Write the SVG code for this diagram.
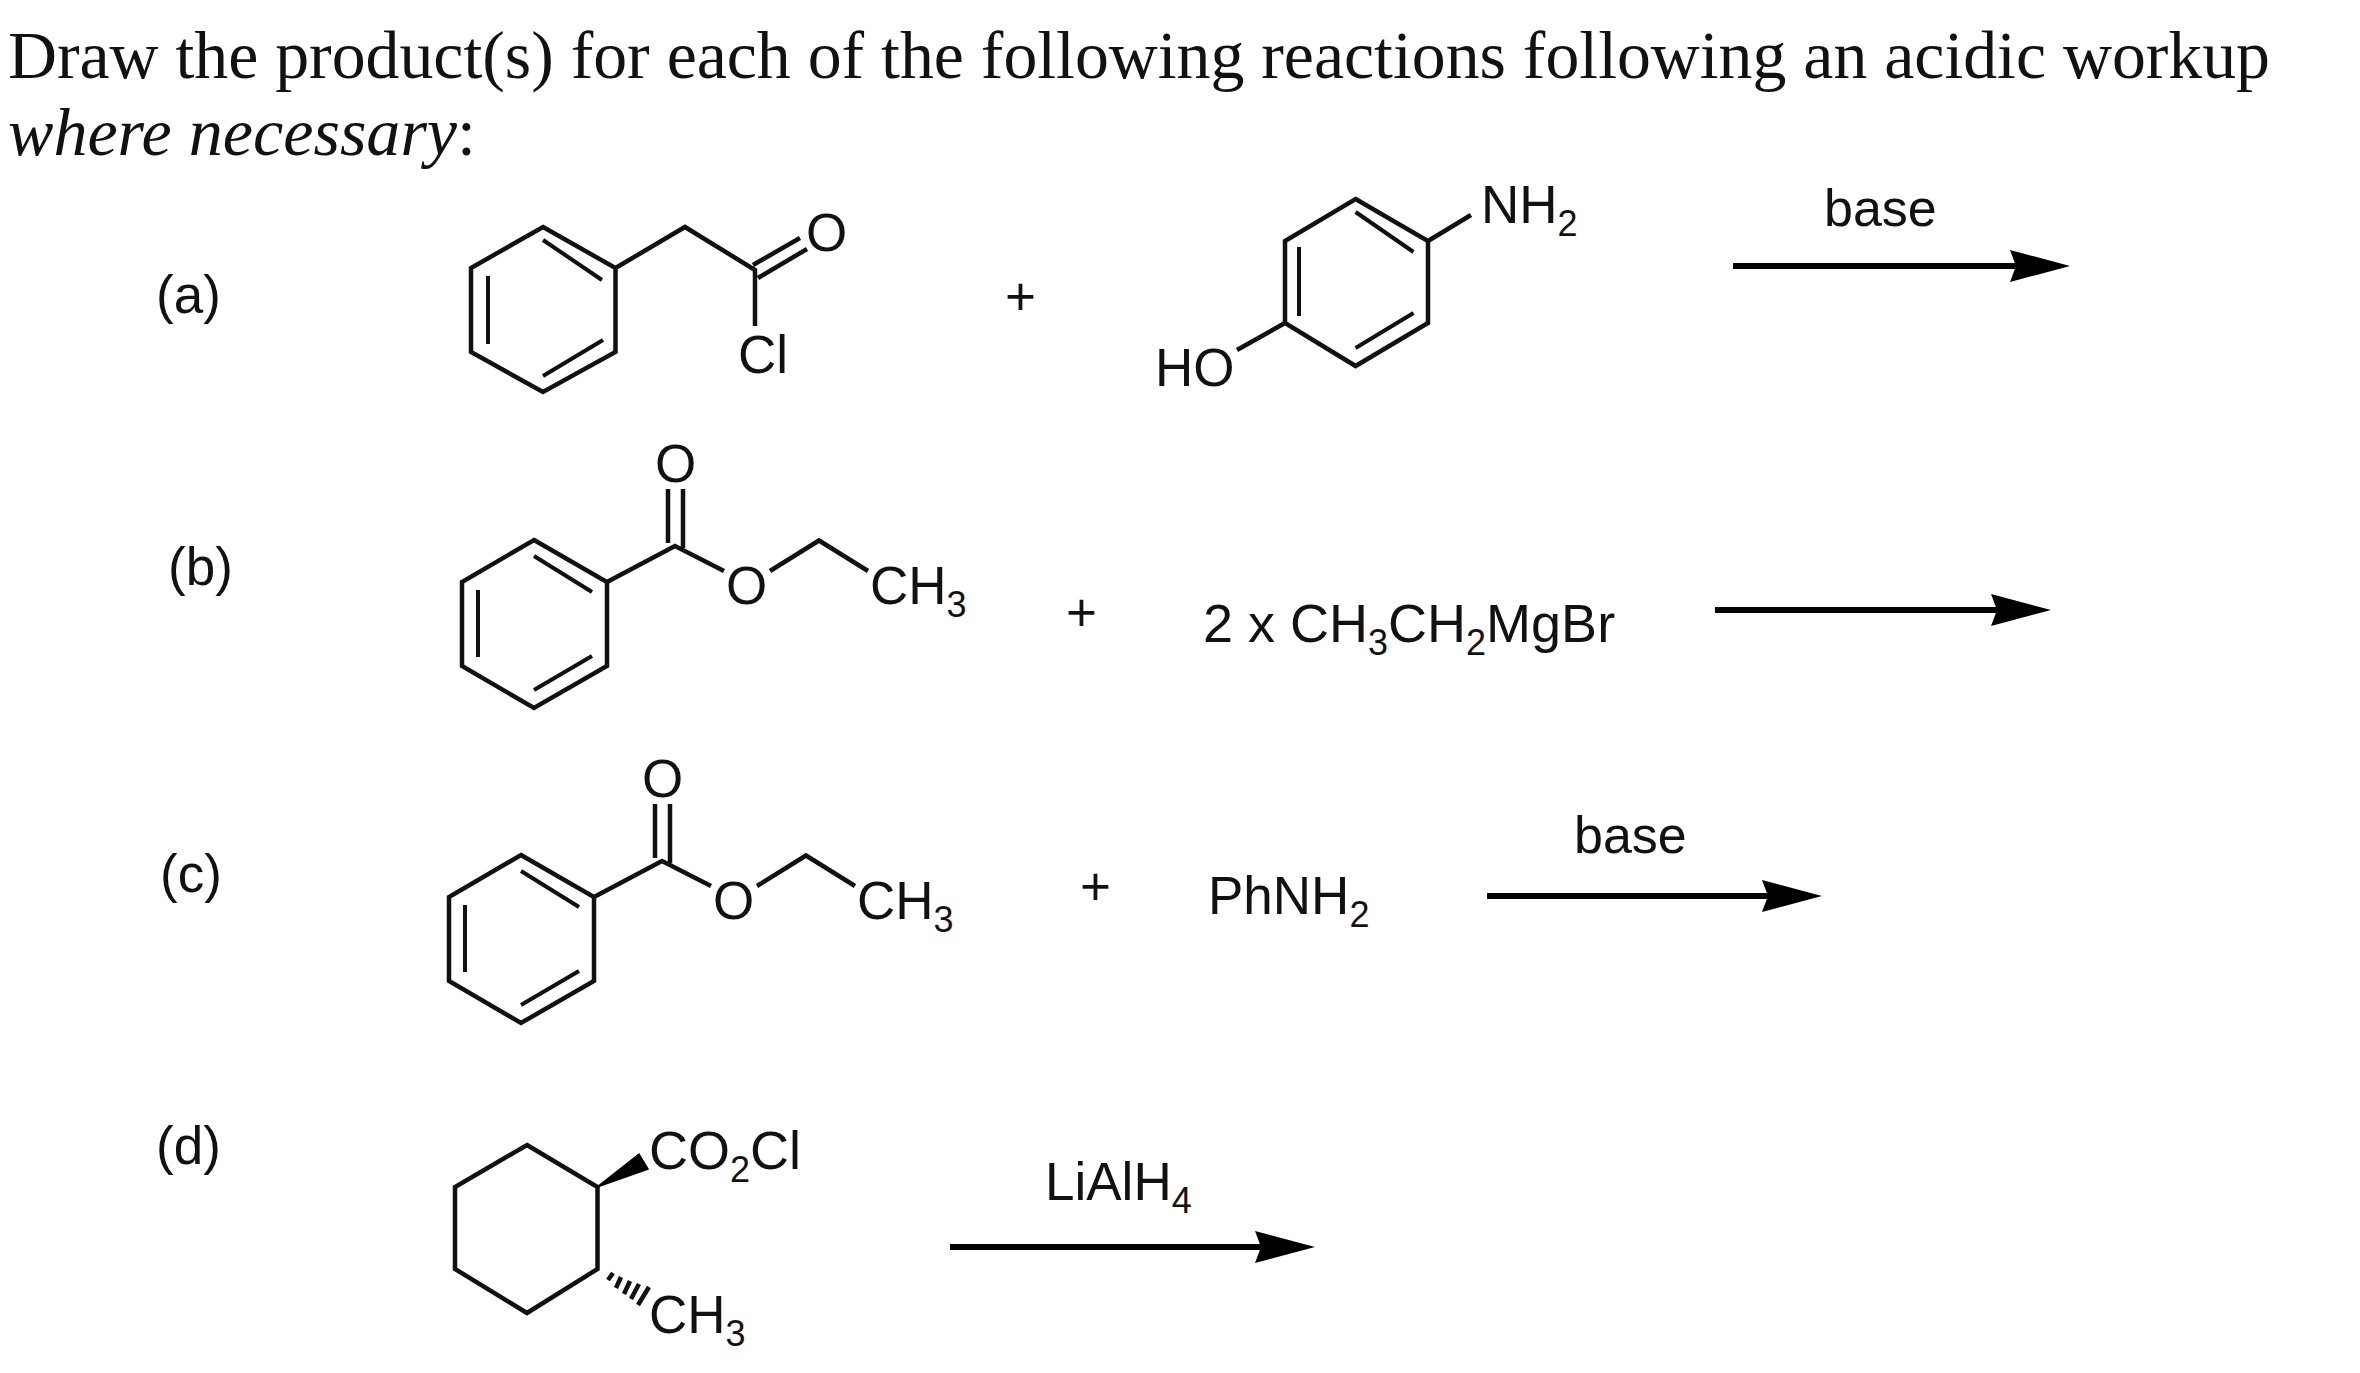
<svg xmlns="http://www.w3.org/2000/svg" width="2360" height="1373" viewBox="0 0 2360 1373">
<style>
text{font-family:"Liberation Sans",Arial,sans-serif;font-size:53px;fill:#111}
.title{font-family:"Liberation Serif","Times New Roman",serif;font-size:68px}
.it{font-style:italic}
.up{font-style:normal}
.base{font-size:52px}
.lab{font-size:53px}
.big{font-size:54px}
.sub{font-size:36px}
.bond{fill:none;stroke:#111;stroke-width:4.5;stroke-linejoin:miter;stroke-linecap:butt}
.thin{stroke-width:4}
.arrow{fill:none;stroke:#000;stroke-width:6}
</style>
<defs>
<marker id="head" markerUnits="userSpaceOnUse" viewBox="0 0 60 32" markerWidth="60" markerHeight="32" refX="6" refY="16" orient="auto"><path d="M0,0L60,16L0,32L6,16Z" fill="#000"/></marker>
</defs>
<rect width="2360" height="1373" fill="#fff"/>
<g id="heading">
<text class="title" x="8" y="78" textLength="2262" lengthAdjust="spacingAndGlyphs">Draw the product(s) for each of the following reactions following an acidic workup</text>
<text class="title it" x="8" y="155" textLength="468" lengthAdjust="spacingAndGlyphs">where necessary<tspan class="up">:</tspan></text>
</g>
<g id="label-a"><text class="lab" x="156" y="313">(a)</text></g>
<g id="label-b"><text class="lab" x="168" y="585">(b)</text></g>
<g id="label-c"><text class="lab" x="160" y="892">(c)</text></g>
<g id="label-d"><text class="lab" x="156" y="1164">(d)</text></g>

<g id="phenylacetyl-chloride">
<path class="bond" d="M543,227L615.5,268V352L543,392L471,352V268Z"/>
<path class="bond thin" d="M543,240L602,280M603,340L543,376M488,276V344"/>
<path class="bond" d="M615.5,268L685,227L755,270V326M753,265L800,238M758,278L807,249"/>
<text x="806" y="251">O</text>
<text x="738" y="373">Cl</text>
</g>
<g id="plus-a"><text x="1005" y="315">+</text></g>
<g id="aminophenol">
<path class="bond" d="M1355.6,199L1428,241V323L1355.6,366L1285,323V241Z"/>
<path class="bond thin" d="M1355.6,212L1413.5,252M1413.5,313L1355.6,348M1299,247V316"/>
<path class="bond" d="M1428,241L1471,215M1285,323L1237,350"/>
<text x="1481" y="223">NH<tspan class="sub" dy="13">2</tspan></text>
<text x="1155" y="386">HO</text>
</g>
<g id="base-a"><text class="base" x="1824" y="226">base</text></g>

<g id="ethyl-benzoate-b">
<path class="bond" d="M534,540L607,582V666L534,708L462,666V582Z"/>
<path class="bond thin" d="M534,556L592,592M592,656L534,690M478,590V657"/>
<path class="bond" d="M607,582L675,546L724,571M668,489V543M683,489V548M770,571L819,540.5L868,571"/>
<text x="655" y="482">O</text>
<text x="726" y="604">O</text>
<text x="870" y="604">CH<tspan class="sub" dy="13">3</tspan></text>
</g>
<g id="plus-b"><text x="1066" y="631">+</text></g>
<g id="grignard"><text class="big" x="1203" y="642">2 x CH<tspan class="sub" dy="13">3</tspan><tspan class="big" dy="-13">CH</tspan><tspan class="sub" dy="13">2</tspan><tspan class="big" dy="-13">MgBr</tspan></text></g>

<g id="ethyl-benzoate-c" transform="translate(-13,315)">
<path class="bond" d="M534,540L607,582V666L534,708L462,666V582Z"/>
<path class="bond thin" d="M534,556L592,592M592,656L534,690M478,590V657"/>
<path class="bond" d="M607,582L675,546L724,571M668,489V543M683,489V548M770,571L819,540.5L868,571"/>
<text x="655" y="482">O</text>
<text x="726" y="604">O</text>
<text x="870" y="604">CH<tspan class="sub" dy="13">3</tspan></text>
</g>
<g id="plus-c"><text x="1080" y="905">+</text></g>
<g id="aniline"><text x="1208" y="914">PhNH<tspan class="sub" dy="13">2</tspan></text></g>
<g id="base-c"><text class="base" x="1574" y="853">base</text></g>

<g id="cyclohexane-d">
<path class="bond" d="M527,1145L597.5,1187V1269L527,1313L455,1269V1187Z"/>
<path d="M597,1187L639,1154L648,1169Z" fill="#000" stroke="#000" stroke-width="1.5"/>
<path class="bond" d="M608,1280L613,1273M616,1288L621,1277M624,1294L630,1281M631,1299L639,1284M638,1305L649,1287"/>
<text class="big" x="649" y="1169">CO<tspan class="sub" dy="13">2</tspan><tspan class="big" dy="-13">Cl</tspan></text>
<text x="649" y="1333">CH<tspan class="sub" dy="13">3</tspan></text>
</g>
<g id="lialh4"><text x="1045" y="1200">LiAlH<tspan class="sub" dy="13">4</tspan></text></g>

<g id="connectors">
<line class="arrow" x1="1733" y1="266" x2="2016" y2="266" marker-end="url(#head)"/>
<line class="arrow" x1="1715" y1="610" x2="1997" y2="610" marker-end="url(#head)"/>
<line class="arrow" x1="1487" y1="896" x2="1768" y2="896" marker-end="url(#head)"/>
<line class="arrow" x1="950" y1="1247" x2="1261" y2="1247" marker-end="url(#head)"/>
</g>
</svg>
